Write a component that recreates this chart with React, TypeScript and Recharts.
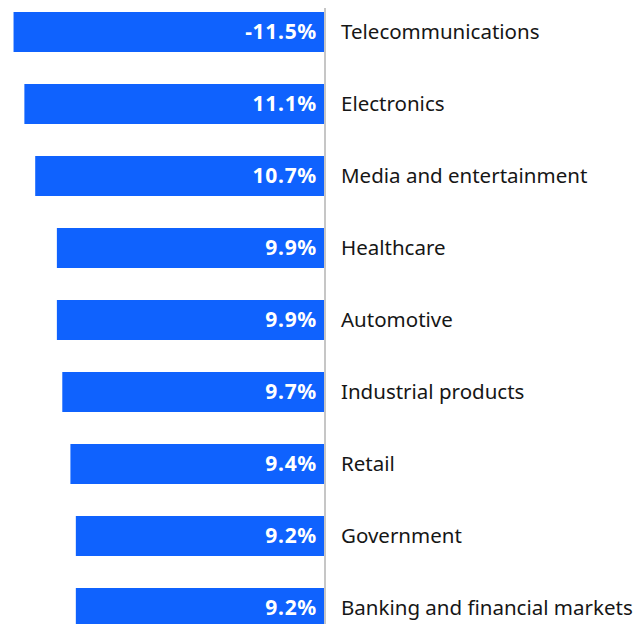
import React from "react";
import { BarChart, Bar, XAxis, YAxis, LabelList } from "recharts";

const categories = [
  "Telecommunications",
  "Electronics",
  "Media and entertainment",
  "Healthcare",
  "Automotive",
  "Industrial products",
  "Retail",
  "Government",
  "Banking and financial markets",
];
const values = [11.5, 11.1, 10.7, 9.9, 9.9, 9.7, 9.4, 9.2, 9.2];
const valueLabels = ["-11.5%", "11.1%", "10.7%", "9.9%", "9.9%", "9.7%", "9.4%", "9.2%", "9.2%"];

const data = categories.map((name, i) => ({ name, value: values[i], label: valueLabels[i] }));

const FONT = "'Noto Sans', Roboto, sans-serif";

const renderValueLabel = (props: any) => {
  const { x, y, width, height, index } = props;
  const right = Math.max(x, x + width);
  return (
    <text
      x={right - 8}
      y={y + height / 2}
      dy="0.355em"
      textAnchor="end"
      fill="#ffffff"
      fontFamily={FONT}
      fontWeight={700}
      fontSize={21}
      letterSpacing={0.7}
    >
      {valueLabels[index]}
    </text>
  );
};

export default function App() {
  return (
    <div style={{ marginLeft: -8, marginTop: -12 }}>
      <BarChart
        width={643}
        height={648}
        data={data}
        layout="vertical"
        margin={{ top: 0, right: 0, bottom: 0, left: 0 }}
        barSize={40}
      >
        <XAxis type="number" domain={[0, 12]} reversed hide />
        <YAxis
          type="category"
          dataKey="name"
          orientation="right"
          width={318}
          axisLine={{ stroke: "#c6c6c6", strokeWidth: 2 }}
          tickLine={false}
          tickSize={0}
          tickMargin={16}
          interval={0}
          tick={{ fill: "#161616", fontSize: 20.5, fontFamily: FONT }}
        />
        <Bar dataKey="value" fill="#0f62fe" isAnimationActive={false}>
          <LabelList dataKey="label" content={renderValueLabel} />
        </Bar>
      </BarChart>
    </div>
  );
}
